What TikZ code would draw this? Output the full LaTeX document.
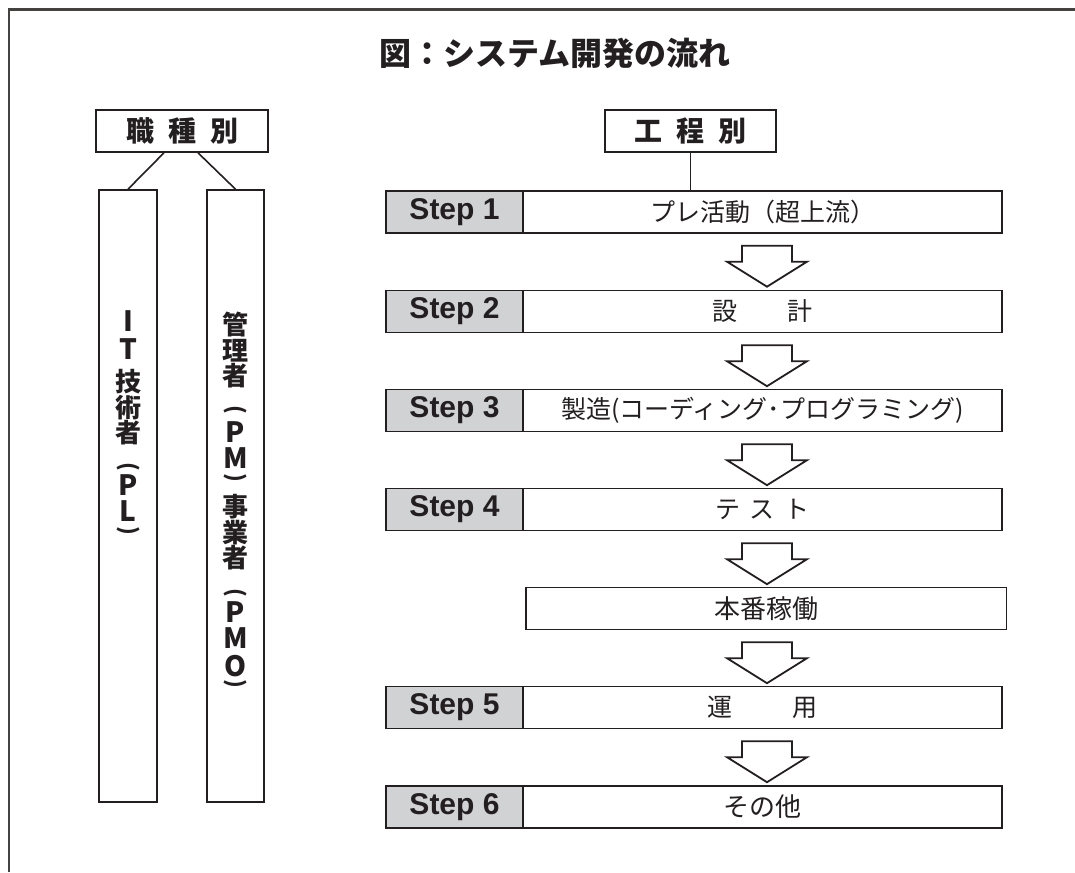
\documentclass[tikz,border=0pt]{standalone}
\usepackage{fontspec}
\setmainfont{Liberation Sans}
\newfontfamily\cjk{Noto Sans CJK JP}
\usetikzlibrary{calc}
\definecolor{ink}{HTML}{231F20}
\definecolor{cellgray}{HTML}{D1D2D4}
\newcommand\flowarrow[2]{%
  \draw[blockarrow] ($(#1.south -| ax)+(-25,12)$) -- ++(0,16) -- ++(-15,0)
    -- ($(#1.south -| ax)+(0,53)$) -- ($(#1.south -| ax)+(40,28)$) -- ++(-15,0)
    -- ++(0,-16) -- cycle;}
\begin{document}
\begin{tikzpicture}[x=1pt,y=-1pt,
  frame/.style={line width=2.4pt, draw=ink!85},
  headbox/.style={draw=ink, line width=1.6pt, fill=white, inner sep=0pt, minimum height=42pt,
    font=\cjk\bfseries\fontsize{28}{30}\selectfont, text=ink},
  colbox/.style={draw=ink, line width=1.6pt, inner sep=0pt, minimum height=612pt},
  coltext/.style={font=\cjk\bfseries\fontsize{26}{26}\selectfont, inner sep=0pt, text=ink},
  collatin/.style={font=\cjk\bfseries\fontsize{28}{28}\selectfont, inner sep=0pt, text=ink},
  parentext/.style={font=\cjk\bfseries\fontsize{22}{22}\selectfont, inner sep=0pt, text=ink, rotate=-90},
  stepbox/.style={draw=ink, line width=1.4pt, fill=cellgray, inner sep=0pt, minimum width=137pt,
    minimum height=42pt, font=\bfseries\fontsize{30}{32}\selectfont, text=ink},
  taskbox/.style={draw=ink, line width=1.4pt, fill=white, inner sep=0pt, minimum width=479pt,
    minimum height=42pt, font=\cjk\fontsize{25}{27}\selectfont, text=ink},
  link/.style={draw=ink, line width=1.6pt},
  blockarrow/.style={draw=ink, line width=1.8pt, fill=white, line join=miter},
]
\fill[white] (0,0) rectangle (1075,872);
\useasboundingbox (0,0) rectangle (1075,872);
\draw[frame] (9,872) -- (9,9.5) -- (1075,9.5);
\coordinate (ax) at (767,0);

% title
\node[font=\cjk\bfseries\fontsize{32}{36}\selectfont, text=ink, inner sep=0pt] (title) at (555,53.5) {図：システム開発の流れ};

% left: by job type
\node[headbox, minimum width=172pt] (sb) at (182,131) {職\hspace{14pt}種\hspace{14pt}別};
\node[colbox, minimum width=58pt] (c1) at (128,496) {};
\node[colbox, minimum width=57pt] (c2) at (235.5,496) {};
\draw[link] ($(sb.south)+(-18,0)$) -- (c1.north);
\draw[link] ($(sb.south)+(16,0)$) -- (c2.north);

\foreach \ch/\yy [count=\k] in {I/321.5,T/349,P/485,L/511.5}
  \node[collatin] (la\k) at (128,\yy) {\ch};
\foreach \ch/\yy [count=\k] in {技/382,術/407.5,者/433}
  \node[coltext] (lk\k) at (128,\yy) {\ch};
\node[parentext] (lpo) at (128,466.5) {(};
\node[parentext] (lpc) at (128,530.5) {)};

\foreach \ch/\yy [count=\k] in {P/431.7,M/458.3,P/611.7,M/638.3,O/665.8}
  \node[collatin] (lb\k) at (235.5,\yy) {\ch};
\foreach \ch/\yy [count=\k] in {管/325,理/350.8,者/375.8,事/506.7,業/532.5,者/557.5}
  \node[coltext] (kb\k) at (235.5,\yy) {\ch};
\node[parentext] (rpo1) at (235.5,410) {(};
\node[parentext] (rpc1) at (235.5,477.5) {)};
\node[parentext] (rpo2) at (235.5,592.5) {(};
\node[parentext] (rpc2) at (235.5,684) {)};

% right: by process
\node[headbox, minimum width=171pt] (kt) at (690.5,131) {工\hspace{14pt}程\hspace{14pt}別};

\node[stepbox] (s1) at (454.5,212) {Step 1};
\node[taskbox] (t1) at (762.5,212) {プレ活動（超上流）};
\node[stepbox] (s2) at (454.5,311.5) {Step 2};
\node[taskbox] (t2) at (762.5,311.5) {設\hspace{2em}計};
\node[stepbox] (s3) at (454.5,410.5) {Step 3};
\node[taskbox] (t3) at (762.5,410.5) {製造(コーディング･プログラミング)};
\node[stepbox] (s4) at (454.5,509.5) {Step 4};
\node[taskbox] (t4) at (762.5,509.5) {テ\hspace{0.4em}ス\hspace{0.4em}ト};
\node[taskbox, minimum width=480.6pt, font=\cjk\fontsize{26}{28}\selectfont] (hb) at (766.3,608.5) {本番稼働};
\node[stepbox] (s5) at (454.5,707.5) {Step 5};
\node[taskbox] (t5) at (762.5,707.5) {運\hspace{2.4em}用};
\node[stepbox] (s6) at (454.5,807) {Step 6};
\node[taskbox, font=\cjk\fontsize{26}{28}\selectfont] (t6) at (762.5,807) {その他};

\draw[link] (kt.south) -- (kt.south |- t1.north);

\flowarrow{t1}{t2}
\flowarrow{t2}{t3}
\flowarrow{t3}{t4}
\flowarrow{t4}{hb}
\flowarrow{hb}{t5}
\flowarrow{t5}{t6}
\end{tikzpicture}
\end{document}
